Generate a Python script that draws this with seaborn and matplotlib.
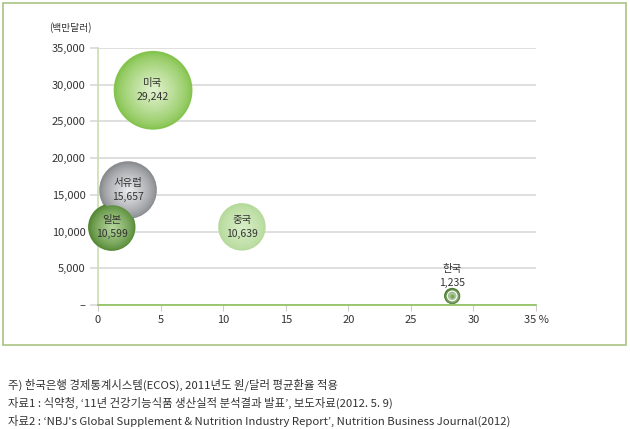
import numpy as np
import pandas as pd
import matplotlib
matplotlib.use("Agg")
import matplotlib.pyplot as plt
import matplotlib.colors as mcolors
from matplotlib.patches import Rectangle
import seaborn as sns

# ---- data ----
countries = ["미국", "서유럽", "일본", "중국", "한국"]
growth = [4.4, 2.4, 1.1, 11.5, 28.3]          # x (%)
market = [29242, 15657, 10599, 10639, 1235]    # y (백만달러)
value_labels = ["29,242", "15,657", "10,599", "10,639", "1,235"]
x_ticks = [0, 5, 10, 15, 20, 25, 30, 35]
x_tick_labels = ["0", "5", "10", "15", "20", "25", "30", "35 %"]
y_ticks = [0, 5000, 10000, 15000, 20000, 25000, 30000, 35000]
y_tick_labels = ["–", "5,000", "10,000", "15,000", "20,000", "25,000", "30,000", "35,000"]
notes = [
    "주) 한국은행 경제통계시스템(ECOS), 2011년도 원/달러 평균환율 적용",
    "자료1 : 식약청, ‘11년 건강기능식품 생산실적 분석결과 발표’, 보도자료(2012. 5. 9)",
    "자료2 : ‘NBJ's Global Supplement & Nutrition Industry Report’, Nutrition Business Journal(2012)",
]

edge_colors = ["#86c450", "#8a8d90", "#568a36", "#b6da9c", "#4b7a30"]
center_colors = ["#e4f3d2", "#eeeef0", "#b8d8a0", "#d9eec8", "#e8f3df"]

df = pd.DataFrame({"country": countries, "growth": growth, "market": market})

sns.set_style("white")
plt.rcParams["font.family"] = ["Noto Sans CJK KR", "DejaVu Sans"]

fig = plt.figure(figsize=(6.3, 4.29), dpi=100)
ax = fig.add_axes([98 / 630, 1 - 305 / 429, (536 - 98) / 630, (305 - 48) / 429])

k = 0.11
vmin, vmax = min(market), max(market)
sns.scatterplot(data=df, x="growth", y="market", hue="country", size="market",
                sizes=(k * vmin, k * vmax), palette=edge_colors, legend=False,
                linewidth=0, ax=ax, zorder=3, clip_on=False)

# radial-gradient shading layers
n = 16
for i, (xv, yv, v) in enumerate(zip(growth, market, market)):
    ec = np.array(mcolors.to_rgb(edge_colors[i]))
    cc = np.array(mcolors.to_rgb(center_colors[i]))
    base = k * v
    z = 3 + i * 0.1
    for j in range(1, n):
        f = 1 - j / n
        t = (j / n) ** 0.8
        col = ec * (1 - t) + cc * t
        ax.scatter([xv], [yv], s=base * f ** 2, color=col, linewidth=0,
                   zorder=z + 0.001 * j, clip_on=False)
    if countries[i] == "한국":
        ax.scatter([xv], [yv], s=base * 0.35, facecolor="none", edgecolor="white",
                   linewidth=0.8, zorder=z + 0.05, clip_on=False)
        ax.scatter([xv], [yv], s=base * 0.08, color="#7aa860", linewidth=0,
                   zorder=z + 0.06, clip_on=False)

# labels
for i, (xv, yv) in enumerate(zip(growth, market)):
    if countries[i] == "한국":
        ax.text(xv, yv + 2700, countries[i] + "\n" + value_labels[i], ha="center", va="center",
                fontsize=7.5, color="#333333", linespacing=1.45, zorder=10)
    else:
        ax.text(xv, yv, countries[i] + "\n" + value_labels[i], ha="center", va="center",
                fontsize=7.5, color="#333333", linespacing=1.45, zorder=10)

ax.set_xlim(0, 35)
ax.set_ylim(0, 35000)
ax.set_xticks(x_ticks)
ax.set_xticklabels(x_tick_labels)
ax.set_yticks(y_ticks)
ax.set_yticklabels(y_tick_labels)
ax.set_xlabel("")
ax.set_ylabel("")
ax.grid(axis="y", color="#d9d9d9", linewidth=1.2, zorder=0)
ax.set_axisbelow(True)
for s in ["top", "right"]:
    ax.spines[s].set_visible(False)
ax.spines["left"].set_color("#c9deb0")
ax.spines["left"].set_linewidth(1.2)
ax.spines["bottom"].set_color("#8cbf5a")
ax.spines["bottom"].set_linewidth(1.2)
ax.tick_params(axis="y", length=6, color="#d9d9d9", width=1.2, labelsize=8,
               labelcolor="#333333", pad=3, left=True)
ax.tick_params(axis="x", length=4, color="#cccccc", width=0.8, labelsize=8,
               labelcolor="#333333", pad=3, bottom=True)

fig.text(70 / 630, 1 - 28 / 429, "(백만달러)", ha="center", va="center", fontsize=7, color="#333333")

fig.patches.append(Rectangle((3 / 630, 1 - 345 / 429), 623 / 630, 342 / 429, transform=fig.transFigure,
                             fill=False, edgecolor="#a9c383", linewidth=1.2))

for i, line in enumerate(notes):
    fig.text(8 / 630, 1 - (385 + 18 * i) / 429, line, ha="left", va="center", fontsize=8.2, color="#333333")

fig.savefig("out.png", dpi=100)
